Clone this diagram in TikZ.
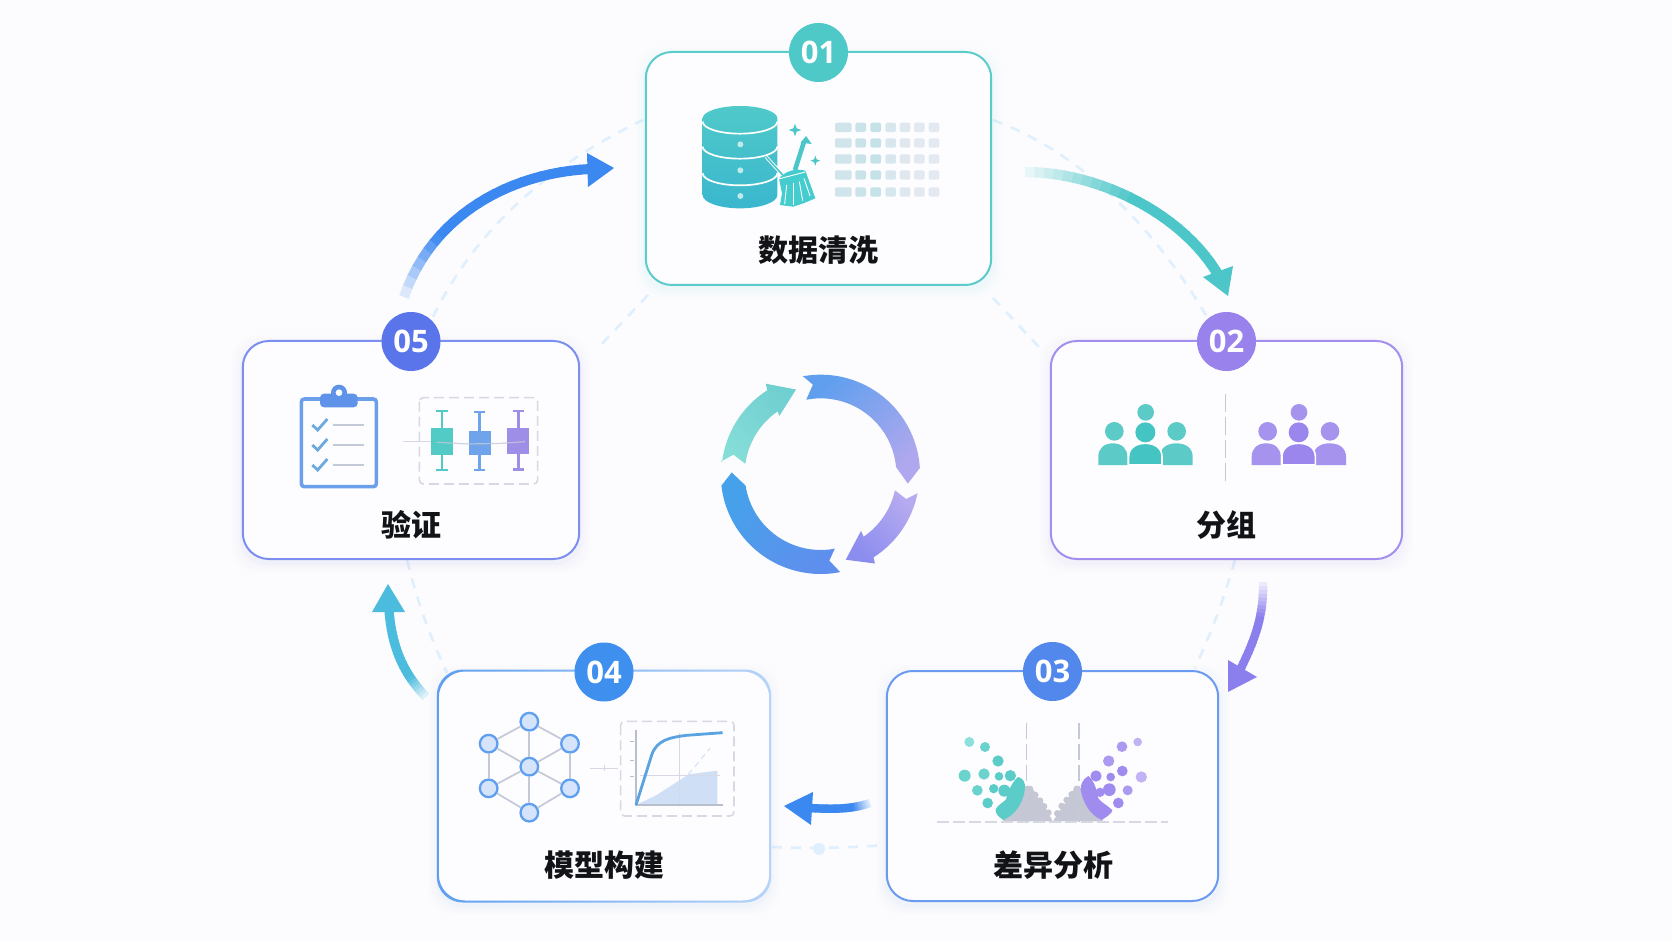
\documentclass[tikz,border=0pt]{standalone}
\usepackage{fontspec}
\setmainfont{Noto Sans}
\newfontfamily\cjk{Noto Sans CJK SC}
\newfontfamily\numf{Open Sans}
\usetikzlibrary{calc}
\definecolor{pagebg}{HTML}{FCFCFE}
\definecolor{cardfill}{HTML}{FDFDFF}
\definecolor{ink}{HTML}{111317}
\definecolor{teal}{HTML}{4CC6C8}
\definecolor{tealb}{HTML}{5CCBCB}
\definecolor{violet}{HTML}{A48FEE}
\definecolor{blueiii}{HTML}{6A9BF0}
\definecolor{blueiv}{HTML}{5F9FF0}
\definecolor{bluev}{HTML}{7C8FF0}
\definecolor{ringc}{HTML}{DFEFFD}
\definecolor{gridg}{HTML}{C4C9D8}
\definecolor{dashg}{HTML}{D6D9E4}
\definecolor{netf}{HTML}{D5E4FA}
\definecolor{HTMLa}{HTML}{4FC8C8}
\definecolor{HTMLb}{HTML}{9A82EC}
\definecolor{HTMLc}{HTML}{5288EC}
\definecolor{HTMLd}{HTML}{3E8FEE}
\definecolor{HTMLe}{HTML}{5A75EA}
\definecolor{HTMLf}{HTML}{3B88F0}
\definecolor{HTMLg}{HTML}{8B7FEE}
\definecolor{HTMLh}{HTML}{4BBCDD}
\definecolor{HTMLi}{HTML}{85DDD8}
\definecolor{HTMLj}{HTML}{70CFD0}
\definecolor{HTMLk}{HTML}{5F9FEE}
\definecolor{HTMLl}{HTML}{B0A8EE}
\definecolor{HTMLm}{HTML}{B7ABF0}
\definecolor{HTMLn}{HTML}{8A8CEE}
\definecolor{HTMLo}{HTML}{45A2EA}
\definecolor{HTMLp}{HTML}{5F8FEE}
\definecolor{HTMLq}{HTML}{4FC9C9}
\definecolor{HTMLr}{HTML}{3AB7CE}
\definecolor{HTMLs}{HTML}{BFE9EA}
\definecolor{HTMLt}{HTML}{E8EAF2}
\definecolor{HTMLu}{HTML}{44C4C2}
\definecolor{HTMLv}{HTML}{5CCBC7}
\definecolor{HTMLw}{HTML}{9A86EC}
\definecolor{HTMLx}{HTML}{A593EE}
\definecolor{HTMLy}{HTML}{C5C8D4}
\definecolor{HTMLz}{HTML}{5CCCC8}
\definecolor{HTMLA}{HTML}{A08BEE}
\definecolor{HTMLB}{HTML}{8DE0DC}
\definecolor{HTMLC}{HTML}{6AD3CE}
\definecolor{HTMLD}{HTML}{AC99F0}
\definecolor{HTMLE}{HTML}{C2B4F4}
\definecolor{HTMLF}{HTML}{CFE0F6}
\definecolor{HTMLG}{HTML}{B8BECB}
\definecolor{HTMLH}{HTML}{5BA3E0}
\definecolor{HTMLI}{HTML}{6C9FEA}
\definecolor{HTMLJ}{HTML}{5F93EA}
\definecolor{HTMLK}{HTML}{6BA9DE}
\definecolor{HTMLL}{HTML}{52CBC6}
\definecolor{HTMLM}{HTML}{6FA3EC}
\definecolor{HTMLN}{HTML}{9F8EE8}
\tikzset{
  cardbox/.style={rectangle,rounded corners=13pt,inner sep=0pt,fill=cardfill,line width=1pt},
  badge/.style={circle,minimum size=29.5pt,inner sep=0pt,text=white,font=\numf\bfseries\fontsize{15.5}{15.5}\selectfont},
  cardtitle/.style={inner sep=0pt,text=ink,font=\cjk\bfseries\fontsize{15}{15}\selectfont},
  ringdash/.style={line width=1.3pt,color=ringc,dash pattern=on 5pt off 4.5pt},
  zs/.style 2 args={shift={(#1,#2)},x=0.16667pt,y=-0.16667pt},
  cs/.style={shift={(820.7,474)},x=0.16667pt,y=0.16667pt},
  netnode/.style={circle,draw=#1,fill=netf,line width=1.15pt,minimum size=8.8pt,inner sep=0pt},
  netedge/.style={draw=gridg,line width=0.85pt}
}
\newcommand\cardshadow[5]{%
  \foreach \s/\o in {10/.012,7/.016,4/.02,2/.03}{
    \fill[#5,opacity=\o,rounded corners=13pt]
      ({#1-#3/2-\s},{#2-#4/2-\s+4}) rectangle ({#1+#3/2+\s},{#2+#4/2+\s+4});
  }}
\newcommand\gradarrow[4]{% name, colour, width, gain
  \foreach \i in {0,...,24}{\pgfmathsetmacro\tpos{\i/24}
    \path (#1s) .. controls (#1a) and (#1b) .. (#1e) coordinate[pos=\tpos] (#1p\i);}
  \foreach \i in {1,...,24}{
    \pgfmathtruncatemacro\j{\i-1}
    \pgfmathtruncatemacro\pp{min(100,4+\i*#4)}
    \draw[line width=#3,line cap=butt,shorten >=-0.6pt,color=#2!\pp!pagebg] (#1p\j)--(#1p\i);}
  \fill[#2] (#1t)--(#1l)--(#1r)--cycle;}
\newcommand\spark[3]{\fill[teal] (#1,{#2-#3})--({#1+.26*#3},{#2-.26*#3})--({#1+#3},#2)--({#1+.26*#3},{#2+.26*#3})--(#1,{#2+#3})--({#1-.26*#3},{#2+.26*#3})--({#1-#3},#2)--({#1-.26*#3},{#2-.26*#3})--cycle;}
\newcommand\bodyshape[3]{(#1,495)--(#1,470) .. controls (#1,445) and ({#1+.2*(#2-#1)},430) .. ({(#1+#2)/2},430) .. controls ({#2-.2*(#2-#1)},430) and (#2,445) .. (#2,470)--(#2,495)--cycle}
\begin{document}
\begin{tikzpicture}[x=0.5pt,y=-0.5pt]
\useasboundingbox (0,0) rectangle (1672,941);
\fill[pagebg] (0,0) rectangle (1672,941);

% faint dashed ring
\coordinate (r1s) at (433,317); \coordinate (r1a) at (480,220); \coordinate (r1b) at (560,160); \coordinate (r1e) at (643,120);
\draw[ringdash] (r1s) .. controls (r1a) and (r1b) .. (r1e);
\coordinate (r2s) at (993,120); \coordinate (r2a) at (1075,150); \coordinate (r2b) at (1150,220); \coordinate (r2e) at (1207,317);
\draw[ringdash] (r2s) .. controls (r2a) and (r2b) .. (r2e);
\coordinate (r3s) at (1235,560); \coordinate (r3e) at (1195,668);
\draw[ringdash] (r3s) to[bend left=4] (r3e);
\coordinate (r4s) at (772,847); \coordinate (r4e) at (886,845); \coordinate (r4m) at (819,849);
\draw[ringdash] (r4s) to[bend right=3] (r4e);
\fill[ringc] (r4m) circle[radius=6];
\coordinate (r5s) at (407,560); \coordinate (r5e) at (447,673);
\draw[ringdash] (r5s) to[bend right=5] (r5e);
\coordinate (r6s) at (648,295); \coordinate (r6e) at (598,348);
\draw[ringdash] (r6s)--(r6e);
\coordinate (r7s) at (993,298); \coordinate (r7e) at (1040,348);
\draw[ringdash] (r7s)--(r7e);

% cards
\cardshadow{818.5}{168.5}{347}{233}{tealb}
\cardshadow{1226.5}{450}{353}{218}{violet}
\cardshadow{1052.5}{786}{333}{230}{blueiii}
\cardshadow{604}{786}{332}{230}{blueiv}
\cardshadow{411}{450}{338}{218}{bluev}
\node[cardbox,draw=tealb,minimum width=172.7pt,minimum height=116.5pt] (c1) at (818.5,168.5) {};
\node[cardbox,draw=violet,minimum width=175.7pt,minimum height=109pt] (c2) at (1226.5,450) {};
\node[cardbox,draw=blueiii,minimum width=165.7pt,minimum height=115pt] (c3) at (1052.5,786) {};
\node[cardbox,minimum width=165.2pt,minimum height=114.5pt] (c4) at (604,786) {};
\node[cardbox,draw=bluev,minimum width=168.2pt,minimum height=109pt] (c5) at (411,450) {};
\shade[rounded corners=13pt,even odd rule,left color=blueiv,right color=blueiv!45!white]
  ($(c4.south west)+(-1,1)$) rectangle ($(c4.north east)+(1,-1)$)
  ($(c4.south west)+(1,-1)$) rectangle ($(c4.north east)+(-1,1)$);

% badges
\node[badge,fill=HTMLa] (b1) at ($(c1.north)+(0,1.5)$) {01};
\node[badge,fill=HTMLb] (b2) at ($(c2.north)+(0,1.5)$) {02};
\node[badge,fill=HTMLc] (b3) at ($(c3.north)+(0,1.5)$) {03};
\node[badge,fill=HTMLd] (b4) at ($(c4.north)+(0,1.5)$) {04};
\node[badge,fill=HTMLe] (b5) at ($(c5.north)+(0,1.5)$) {05};

% titles
\node[cardtitle] (t1) at (818,250) {数据清洗};
\node[cardtitle] (t2) at (1226,525) {分组};
\node[cardtitle] (t3) at (1053,865) {差异分析};
\node[cardtitle] (t4) at (604,865) {模型构建};
\node[cardtitle] (t5) at (411,525) {验证};

% outer arrows
\coordinate (as) at (404,297); \coordinate (aa) at (432,215); \coordinate (ab) at (510,173); \coordinate (ae) at (590,169);
\coordinate (at) at (614,168); \coordinate (al) at (587,153); \coordinate (ar) at (588,187);
\gradarrow{a}{HTMLf}{5pt}{13}
\coordinate (bs) at (1025,172); \coordinate (ba) at (1100,172); \coordinate (bb) at (1185,215); \coordinate (be) at (1220,278);
\coordinate (bt) at (1228,296); \coordinate (bl) at (1203,277); \coordinate (br) at (1233,266);
\gradarrow{b}{teal}{5.2pt}{8}
\coordinate (cs) at (1263,582); \coordinate (ca) at (1264,615); \coordinate (cb) at (1255,640); \coordinate (ce) at (1240,670);
\coordinate (ct) at (1228,692); \coordinate (cl) at (1228,660); \coordinate (cr) at (1257,677);
\gradarrow{c}{HTMLg}{4.2pt}{10}
\coordinate (ds) at (870,803); \coordinate (da) at (850,810); \coordinate (db) at (830,809); \coordinate (de) at (808,808);
\coordinate (dt) at (784,806); \coordinate (dl) at (813,792); \coordinate (dr) at (811,825);
\gradarrow{d}{HTMLf}{4.2pt}{13}
\coordinate (es) at (426,697); \coordinate (ea) at (405,675); \coordinate (eb) at (392,650); \coordinate (ee) at (389,610);
\coordinate (et) at (388,584); \coordinate (el) at (372,612); \coordinate (er) at (405,612);
\gradarrow{e}{HTMLh}{4.6pt}{13}

% central cycle
\begin{scope}[cs]
\shade[bottom color=HTMLi,top color=HTMLj,shading angle=315]
  (173:302)--(167.5:268)--(172.3:228) arc[start angle=172.3,end angle=124.7,radius=228]
  --(125.3:214)--(106.3:264)--(121.3:317)--(122.5:298) arc[start angle=122.5,end angle=173,radius=298]--cycle;
\shade[bottom color=HTMLk,top color=HTMLl,shading angle=225]
  (100.6:300)--(95:269)--(101:227) arc[start angle=101,end angle=5.3,radius=227]
  --(-6.3:263)--(3.5:298) arc[start angle=3.5,end angle=100.6,radius=298]--cycle;
\shade[bottom color=HTMLm,top color=HTMLn,shading angle=135]
  (-11:298)--(-16.3:267)--(-12.4:228) arc[start angle=-12.4,end angle=-55.6,radius=228]
  --(-54.6:209)--(-73.7:268)--(-58.8:314)--(-57.6:296) arc[start angle=-57.6,end angle=-11,radius=296]--cycle;
\shade[bottom color=HTMLo,top color=HTMLp,shading angle=225]
  (-78.8:300)--(-84.3:261)--(-79.3:228) arc[start angle=-79.3,end angle=-171.2,radius=228]
  --(179:267)--(-173.3:300) arc[start angle=-173.3,end angle=-78.8,radius=300]--cycle;
\end{scope}

% icon 1: database, broom, grid
\begin{scope}[zs={630}{10}]
\shade[top color=HTMLq,bottom color=HTMLr]
  (218,325)--(218,555) arc[x radius=112,y radius=40,start angle=180,end angle=0]
  --(442,325) arc[x radius=112,y radius=37,start angle=0,end angle=-180]--cycle;
\foreach \yy in {335,410,490}
  \draw[white,line width=.85pt] (218,\yy) arc[x radius=112,y radius=36,start angle=180,end angle=0];
\foreach \yy in {403,481,558}
  \fill[HTMLs] (331,\yy) circle[radius=9];
\draw[white,line width=1.7pt] (408,440)--(458,495);
\draw[teal,line width=.8pt] (408,440)--(458,495);
\draw[teal,line width=2.3pt] (495,480)--(522,395);
\fill[teal] (512,398)--(528,378)--(545,402)--cycle;
\fill[teal!90!cyan] (447,505) .. controls (470,480) and (500,475) .. (526,482)
  --(556,565)--(520,580)--(490,590)--(450,585)--(456,550)--cycle;
\draw[white,line width=.45pt] (445,507)--(526,486);
\foreach \xa/\ya/\xb/\yb in {470/525/464/582,490/520/490/585,508/515/518/572,522/505/540/558}
  \draw[white,line width=.45pt] (\xa,\ya)--(\xb,\yb);
\spark{495}{360}{19}
\spark{556}{452}{15}
\foreach \cx/\cw/\ca in {640/50/16,692/32/19,737/32/23,782/32/10,825/32/6,868/32/4,912/32/3}
  \foreach \ry in {352,399,447,495,546}
    \fill[teal!\ca!HTMLt,rounded corners=1pt] ({\cx-\cw/2},{\ry-14}) rectangle ({\cx+\cw/2},{\ry+14});
\end{scope}

% icon 2: two groups
\begin{scope}[zs={1040}{300}]
\foreach \dx/\ca/\cb in {0/HTMLu/HTMLv,460/HTMLw/HTMLx}{
  \begin{scope}[xshift=\dx*0.16667pt]
  \fill[\cb] (317,337) circle[radius=25];
  \fill[\cb] (223,394) circle[radius=28];
  \fill[\cb] (410,394) circle[radius=28];
  \fill[\cb] \bodyshape{175}{262}{0};
  \fill[\cb] \bodyshape{360}{458}{0};
  \draw[white,line width=.8pt,fill=\ca] \bodyshape{266}{366}{0};
  \fill[white] (316,397) circle[radius=33];
  \fill[\ca] (316,397) circle[radius=30];
  \end{scope}}
\draw[gridg,line width=.65pt,dash pattern=on 9pt off 2.5pt] (557,283)--(557,553);
\end{scope}

% icon 3: volcano plot
\begin{scope}[zs={880}{640}]
\fill[HTMLy] (368,544)--(405,490)--(430,440)--(445,437)--(462,452)--(470,470)--(490,490)--(502,515)--(519,545)
  --(535,518)--(555,490)--(570,465)--(590,437)--(610,450)--(640,500)--(670,544)--cycle;
\foreach \gx/\gy in {450/447,466/465,480/482,492/499,505/518,590/447,575/463,560/480,545/498,532/520}
  \fill[HTMLy] (\gx,\gy) circle[radius=10];
\draw[dashg,line width=.8pt,dash pattern=on 6pt off 2pt] (172,546)--(865,546);
\draw[gridg,line width=.7pt,dash pattern=on 8pt off 2.5pt] (439,248)--(439,546);
\draw[gridg,line width=.7pt,dash pattern=on 8pt off 2.5pt] (597,248)--(597,546);
\fill[HTMLz] (370,540) .. controls (355,530) and (345,520) .. (347,508) .. controls (355,492) and (368,490) .. (378,478)
  .. controls (385,450) and (400,420) .. (415,411) .. controls (430,415) and (437,430) .. (435,445)
  .. controls (430,490) and (405,525) .. (370,540)--cycle;
\fill[HTMLA] (665,540) .. controls (680,530) and (697,520) .. (697,510) .. controls (680,495) and (665,488) .. (655,475)
  .. controls (650,445) and (640,420) .. (625,408) .. controls (610,415) and (600,435) .. (602,450)
  .. controls (610,490) and (630,525) .. (665,540)--cycle;
\foreach \px/\py/\pr/\pc in {268/306/15/HTMLB,315/321/15/HTMLC,354/363/17/HTMLz,254/407/18/HTMLC,312/402/17/HTMLC,
   357/409/13/HTMLz,391/407/17/HTMLz,292/451/16/HTMLC,341/446/14/HTMLz,373/452/18/HTMLz,323/489/16/HTMLz,
   726/320/16/HTMLD,773/306/13/HTMLE,686/363/17/HTMLD,727/393/16/HTMLA,692/411/13/HTMLA,648/408/17/HTMLA,
   784/411/17/HTMLE,743/451/15/HTMLD,688/449/19/HTMLA,660/457/14/HTMLA,715/489/16/HTMLA}
  \fill[\pc] (\px,\py) circle[radius=\pr];
\end{scope}

% icon 4: network and curve
\begin{scope}[zs={430}{640}]
\node[netnode=blueiv] (n1) at (298,245) {};
\node[netnode=blueiv] (n2) at (176,311) {};
\node[netnode=blueiv] (n3) at (420,311) {};
\node[netnode=blueiv] (n4) at (298,380) {};
\node[netnode=blueiv] (n5) at (176,445) {};
\node[netnode=blueiv] (n6) at (420,445) {};
\node[netnode=blueiv] (n7) at (298,518) {};
\foreach \u/\v in {n1/n2,n1/n3,n2/n5,n3/n6,n5/n7,n6/n7,n4/n1,n4/n2,n4/n3,n4/n5,n4/n6,n4/n7}
  \path[netedge] (\u)--(\v);
\draw[dashg,line width=.45pt] (480,385)--(565,385) (522,376)--(522,394);
\draw[dashg,line width=.8pt,rounded corners=2pt,dash pattern=on 5pt off 2.5pt] (572,244) rectangle (912,528);
\fill[HTMLF] (618,495)--(680,465)--(750,420)--(775,403)--(862,392)--(862,495)--cycle;
\draw[dashg,line width=.4pt] (748,280)--(748,495) (630,405)--(870,405);
\draw[HTMLF,line width=.5pt,dash pattern=on 3pt off 2pt] (775,403)--(840,325);
\draw[HTMLG,line width=.7pt] (618,270)--(618,495)--(880,495);
\draw[HTMLG,line width=.4pt] (600,305)--(612,305) (600,360)--(612,360) (600,408)--(612,408);
\draw[HTMLH,line width=1.4pt] (618,495)--(665,345) .. controls (680,300) and (720,292) .. (770,286)--(878,278);
\end{scope}

% icon 5: clipboard and boxplot
\begin{scope}[zs={235}{300}]
\draw[HTMLI,line width=1.8pt,rounded corners=1.5pt,fill=cardfill] (199,297) rectangle (424,560);
\fill[HTMLJ] (312,278) circle[radius=24];
\fill[HTMLJ,rounded corners=2pt] (255,281) rectangle (368,322);
\fill[white] (312,278) circle[radius=10];
\foreach \dy in {0,60,120}{
  \draw[HTMLK,line width=1.4pt] (232,{375+\dy})--(248,{390+\dy})--(277,{357+\dy});
  \draw[gridg,line width=1pt] (295,{374+\dy})--(388,{374+\dy});}
\draw[dashg,line width=.8pt,rounded corners=2pt,dash pattern=on 5pt off 2.5pt] (553,293) rectangle (908,552);
\draw[dashg,line width=.5pt] (505,423)--(589,423);
\foreach \bx/\bw/\bt/\bb/\wt/\wb/\bc in {621/33/385/465/333/510/HTMLL,734/33/393/464/336/510/HTMLM,850/33/384/462/333/508/HTMLN}{
  \draw[\bc,line width=1.2pt] (\bx,\wt)--(\bx,\wb) ({\bx-17},\wt)--({\bx+17},\wt) ({\bx-17},\wb)--({\bx+17},\wb);
  \fill[\bc] ({\bx-\bw},\bt) rectangle ({\bx+\bw},\bb);}
\draw[gridg,opacity=.8,line width=.6pt] (605,427)--(700,432)--(800,430)--(870,425);
\end{scope}
\end{tikzpicture}
\end{document}
